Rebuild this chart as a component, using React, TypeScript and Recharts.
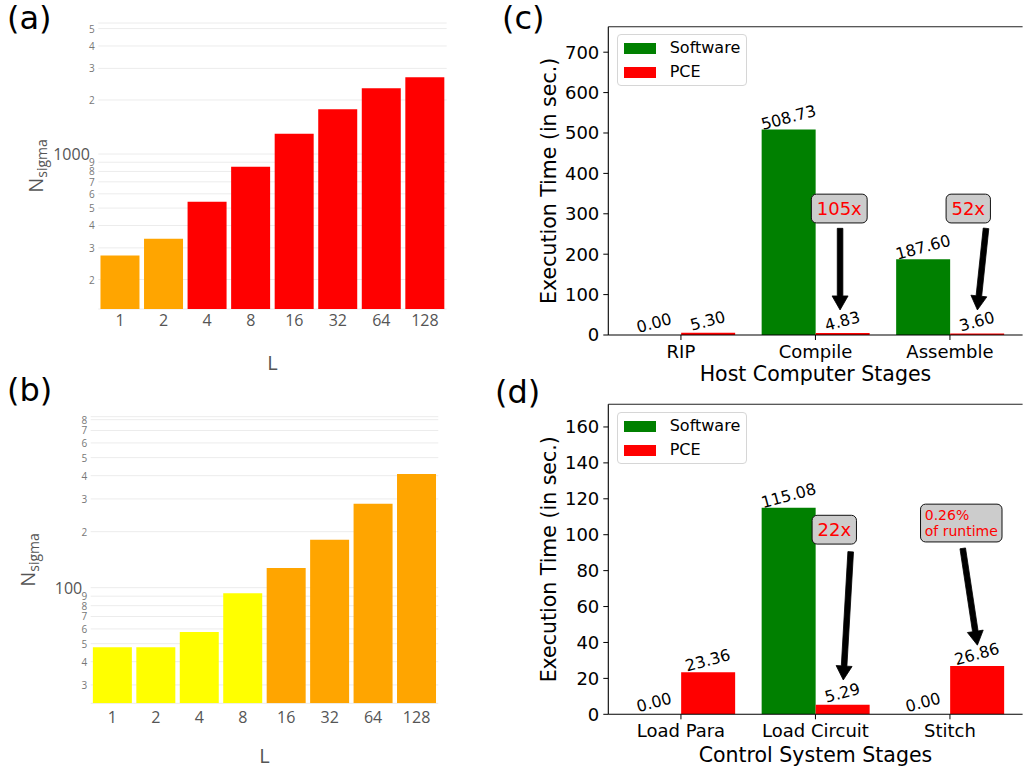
import React from 'react';
import {
  BarChart,
  Bar,
  XAxis,
  YAxis,
  CartesianGrid,
  Cell,
  Legend,
  ReferenceLine,
  ReferenceDot,
  Label,
} from 'recharts';

// ---------- panel (a) / (b) data ----------
const L_LABELS = ['1', '2', '4', '8', '16', '32', '64', '128'];
const NSIGMA_A = [272, 337, 542, 850, 1298, 1775, 2323, 2677];
const FILL_A = ['#FFA500', '#FFA500', '#FF0000', '#FF0000', '#FF0000', '#FF0000', '#FF0000', '#FF0000'];
const NSIGMA_B = [47.8, 47.8, 57.8, 93.3, 127.6, 181, 283, 408];
const FILL_B = ['#FFFF00', '#FFFF00', '#FFFF00', '#FFFF00', '#FFA500', '#FFA500', '#FFA500', '#FFA500'];
const TICKS_A = [200, 300, 400, 500, 600, 700, 800, 900, 1000, 2000, 3000, 4000, 5000];
const TICKS_B = [30, 40, 50, 60, 70, 80, 90, 100, 200, 300, 400, 500, 600, 700, 800];
const RANGE_A = [137, 5370];
const RANGE_B = [23.9, 830];

// ---------- panel (c) / (d) data ----------
const SERIES_NAMES = ['Software', 'PCE'];
const HOST_STAGES = ['RIP', 'Compile', 'Assemble'];
const HOST_SOFTWARE = [0, 508.73, 187.6];
const HOST_PCE = [5.3, 4.83, 3.6];
const HOST_TICKS = [0, 100, 200, 300, 400, 500, 600, 700];
const CTRL_STAGES = ['Load Para', 'Load Circuit', 'Stitch'];
const CTRL_SOFTWARE = [0, 115.08, 0];
const CTRL_PCE = [23.36, 5.29, 26.86];
const CTRL_TICKS = [0, 20, 40, 60, 80, 100, 120, 140, 160];
const STAGE_X_RANGE = [-0.54, 2.54];
const BAR_HALF = 0.2; // bar centre offset from stage centre, in stage units

const HOST_NOTES = [
  { text: ['105x'], size: 18, at: [1.177, 313], from: [1.183, 264], to: [1.183, 62] },
  { text: ['52x'], size: 18, at: [2.136, 313], from: [2.268, 264], to: [2.204, 62] },
];
const CTRL_NOTES = [
  { text: ['22x'], size: 18, at: [1.14, 102.8], from: [1.262, 90.5], to: [1.207, 19.1] },
  { text: ['0.26%', 'of runtime'], size: 14, at: [2.084, 106.5], from: [2.095, 92.4], to: [2.204, 38.5] },
];

const MPL = '"DejaVu Sans", sans-serif';
const PLOTLY = '"Open Sans", sans-serif';

// ---------- helpers ----------
let _ctx: any = null;
const measure = (text: string, size: number) => {
  if (!_ctx) _ctx = document.createElement('canvas').getContext('2d');
  _ctx.font = `${size}px "DejaVu Sans"`;
  return _ctx.measureText(text).width;
};

const LogTick = (props: any) => {
  const { x, y, payload, major } = props;
  const v = payload.value;
  if (v === major) {
    return (
      <text x={x - 8.5} y={y} textAnchor="end" dominantBaseline="central" fontSize={16} fontFamily={PLOTLY} fill="#555">
        {String(v)}
      </text>
    );
  }
  return (
    <text x={x - 3.5} y={y} textAnchor="end" dominantBaseline="central" fontSize={10} fontFamily={PLOTLY} fill="#777">
      {String(v)[0]}
    </text>
  );
};

const NsigmaTitle = (props: any) => {
  const { viewBox, base } = props;
  const bx = base;
  const cy = viewBox.y + viewBox.height / 2;
  return (
    <text x={bx} y={cy} transform={`rotate(-90 ${bx} ${cy})`} textAnchor="middle" fontFamily={PLOTLY} fill="#555">
      <tspan fontSize={20}>N</tspan>
      <tspan fontSize={14} dy={4}>sigma</tspan>
    </text>
  );
};

const XTitle = (props: any) => {
  const { viewBox, text, base, font, size, color } = props;
  return (
    <text x={viewBox.x + viewBox.width / 2} y={viewBox.y + base} textAnchor="middle" fontFamily={font} fontSize={size} fill={color}>
      {text}
    </text>
  );
};

const YTitle = (props: any) => {
  const { viewBox, text, cxOff } = props;
  const cx = viewBox.x + cxOff;
  const cy = viewBox.y + viewBox.height / 2;
  return (
    <text x={cx} y={cy} transform={`rotate(-90 ${cx} ${cy})`} textAnchor="middle" dominantBaseline="central" fontFamily={MPL} fontSize={20.5} fill="#000">
      {text}
    </text>
  );
};

const ValueText = (props: any) => {
  const { cx, cy, value } = props;
  if (cx == null || cy == null) return null;
  const ty = cy - 12;
  return (
    <text x={cx} y={ty} transform={`rotate(-15 ${cx} ${ty})`} textAnchor="middle" dominantBaseline="central" fontSize={16} fontFamily={MPL} fill="#000">
      {Number(value).toFixed(2)}
    </text>
  );
};

const NoteBox = (props: any) => {
  const { cx, cy, lines, size } = props;
  if (cx == null || cy == null) return null;
  const pad = 0.3 * size;
  const widths = lines.map((l: string) => measure(l, size));
  const tw = Math.max(...widths);
  const lh = size * 1.1;
  const th = size + (lines.length - 1) * lh;
  const w = tw + 2 * pad;
  const h = th + 2 * pad;
  const left = cx - w / 2;
  const topY = cy - h / 2;
  const single = lines.length === 1;
  return (
    <g>
      <rect x={left} y={topY} width={w} height={h} rx={5} ry={5} fill="#cccccc" stroke="#111" strokeWidth={1} />
      {lines.map((l: string, i: number) => (
        <text
          key={i}
          x={single ? cx : left + pad}
          y={cy - ((lines.length - 1) / 2) * lh + i * lh}
          textAnchor={single ? 'middle' : 'start'}
          dominantBaseline="central"
          fontSize={size}
          fontFamily={MPL}
          fill="#FF0000"
        >
          {l}
        </text>
      ))}
    </g>
  );
};

const Arrow = (props: any) => {
  const { x1, y1, x2, y2 } = props;
  if ([x1, y1, x2, y2].some((v) => v == null || isNaN(v))) return null;
  const dx = x2 - x1;
  const dy = y2 - y1;
  const len = Math.sqrt(dx * dx + dy * dy);
  const ux = dx / len;
  const uy = dy / len;
  const nx = -uy;
  const ny = ux;
  const w = 2.8;
  const hw = 8;
  const hl = 14;
  const bx = x2 - ux * hl;
  const by = y2 - uy * hl;
  const pts = [
    [x1 + nx * w, y1 + ny * w],
    [bx + nx * w, by + ny * w],
    [bx + nx * hw, by + ny * hw],
    [x2, y2],
    [bx - nx * hw, by - ny * hw],
    [bx - nx * w, by - ny * w],
    [x1 - nx * w, y1 - ny * w],
  ]
    .map((p) => p.join(','))
    .join(' ');
  return <polygon points={pts} fill="#000" stroke="#000" strokeWidth={0.8} strokeLinejoin="miter" />;
};

const LegendBox = (props: any) => {
  const payload = [...(props.payload || [])].sort(
    (a: any, b: any) => SERIES_NAMES.indexOf(a.value) - SERIES_NAMES.indexOf(b.value)
  );
  return (
    <div
      style={{
        width: 130,
        height: 52,
        boxSizing: 'border-box',
        border: '1px solid #d6d6d6',
        borderRadius: 4,
        background: 'rgba(255,255,255,0.8)',
        position: 'relative',
        fontFamily: MPL,
        fontSize: 16,
        color: '#000',
      }}
    >
      {payload.map((p: any, i: number) => (
        <div
          key={i}
          style={{ position: 'absolute', left: 6, top: 3 + i * 24, height: 20, display: 'flex', alignItems: 'center', whiteSpace: 'nowrap' }}
        >
          <div style={{ width: 32, height: 11, background: p.color }} />
          <span style={{ marginLeft: 14, lineHeight: '20px' }}>{p.value}</span>
        </div>
      ))}
    </div>
  );
};

// ---------- plotly-style log panels ----------
const LogPanel = (props: any) => {
  const { values, fills, ticks, range, major, width, height, margin, yWidth, xHeight, tickGap, titleBase, nBase } = props;
  const data = L_LABELS.map((l, i) => ({ L: l, n: values[i] }));
  return (
    <BarChart width={width} height={height} data={data} margin={margin} barCategoryGap="5%">
      <CartesianGrid vertical={false} stroke="#ececec" strokeWidth={1} />
      <XAxis
        dataKey="L"
        interval={0}
        axisLine={false}
        tickLine={false}
        tickSize={0}
        tickMargin={tickGap}
        height={xHeight}
        tick={{ fontSize: 16, fill: '#555', fontFamily: PLOTLY }}
      >
        <Label content={(p: any) => <XTitle {...p} text="L" base={titleBase} font={PLOTLY} size={20} color="#555" />} />
      </XAxis>
      <YAxis
        type="number"
        scale="log"
        domain={range}
        allowDataOverflow
        ticks={ticks}
        interval={0}
        width={yWidth}
        axisLine={false}
        tickLine={false}
        tickSize={0}
        tickMargin={0}
        tick={(p: any) => <LogTick {...p} major={major} />}
      >
        <Label content={(p: any) => <NsigmaTitle {...p} base={nBase} />} />
      </YAxis>
      <Bar dataKey="n" isAnimationActive={false}>
        {data.map((d, i) => (
          <Cell key={d.L} fill={fills[i]} />
        ))}
      </Bar>
    </BarChart>
  );
};

// ---------- matplotlib-style stage panels ----------
const StagePanel = (props: any) => {
  const { stages, software, pce, ticks, notes, xTitle, height, top, xHeight, xTitleBase, legendTop } = props;
  const data = stages.map((s: string, i: number) => ({ stage: s, software: software[i], pce: pce[i], pos: i }));
  const yMax = 1.5 * Math.max(...software);
  return (
    <BarChart width={523} height={height} data={data} margin={{ top, right: 0.4, left: 0, bottom: 0 }} barCategoryGap="10%" barGap={0}>
      <XAxis
        dataKey="stage"
        interval={0}
        padding={{ left: 5.4, right: 5.4 }}
        height={xHeight}
        tickSize={5}
        tickMargin={5}
        axisLine={{ stroke: '#000', strokeWidth: 1.1 }}
        tickLine={{ stroke: '#000' }}
        tick={{ fontSize: 18, fill: '#000', fontFamily: MPL }}
      >
        <Label content={(p: any) => <XTitle {...p} text={xTitle} base={xTitleBase} font={MPL} size={20.5} color="#000" />} />
      </XAxis>
      <XAxis xAxisId="num" type="number" dataKey="pos" domain={STAGE_X_RANGE} allowDataOverflow hide />
      <YAxis
        type="number"
        domain={[0, yMax]}
        allowDataOverflow
        ticks={ticks}
        interval={0}
        width={108.3}
        tickSize={5}
        tickMargin={4}
        axisLine={{ stroke: '#000', strokeWidth: 1.1 }}
        tickLine={{ stroke: '#000' }}
        tick={{ fontSize: 18, fill: '#000', fontFamily: MPL }}
      >
        <Label content={(p: any) => <YTitle {...p} text="Execution Time (in sec.)" cxOff={49.3} />} />
      </YAxis>
      <Legend
        layout="horizontal"
        verticalAlign="middle"
        align="center"
        wrapperStyle={{ left: 116.7, top: legendTop, width: 130, height: 52 }}
        content={(p: any) => <LegendBox {...p} />}
      />
      <Bar dataKey="software" name={SERIES_NAMES[0]} fill="#008000" isAnimationActive={false} />
      <Bar dataKey="pce" name={SERIES_NAMES[1]} fill="#FF0000" isAnimationActive={false} />
      <ReferenceLine y={yMax} stroke="#222" strokeWidth={1.1} />
      {data.map((d: any, i: number) => (
        <ReferenceDot
          key={`s${i}`}
          xAxisId="num"
          x={d.pos - BAR_HALF}
          y={d.software}
          r={1}
          shape={(p: any) => <ValueText {...p} value={d.software} />}
        />
      ))}
      {data.map((d: any, i: number) => (
        <ReferenceDot
          key={`p${i}`}
          xAxisId="num"
          x={d.pos + BAR_HALF}
          y={d.pce}
          r={1}
          shape={(p: any) => <ValueText {...p} value={d.pce} />}
        />
      ))}
      {notes.map((n: any, i: number) => (
        <ReferenceLine
          key={`a${i}`}
          xAxisId="num"
          segment={[
            { x: n.from[0], y: n.from[1] },
            { x: n.to[0], y: n.to[1] },
          ]}
          shape={(p: any) => <Arrow {...p} />}
        />
      ))}
      {notes.map((n: any, i: number) => (
        <ReferenceDot
          key={`b${i}`}
          xAxisId="num"
          x={n.at[0]}
          y={n.at[1]}
          r={1}
          shape={(p: any) => <NoteBox {...p} lines={n.text} size={n.size} />}
        />
      ))}
    </BarChart>
  );
};

export default function App() {
  return (
    <div style={{ position: 'absolute', left: 0, top: 0, width: 1023, height: 771, background: '#fff', overflow: 'hidden' }}>
      <div style={{ position: 'absolute', left: 0, top: 0 }}>
        <LogPanel
          values={NSIGMA_A}
          fills={FILL_A}
          ticks={TICKS_A}
          range={RANGE_A}
          major={1000}
          width={460}
          height={380}
          margin={{ top: 23, right: 13.3, left: 0, bottom: 6 }}
          yWidth={98.3}
          xHeight={65}
          tickGap={6}
          titleBase={61}
          nBase={43}
        />
      </div>
      <div style={{ position: 'absolute', left: 0, top: 380 }}>
        <LogPanel
          values={NSIGMA_B}
          fills={FILL_B}
          ticks={TICKS_B}
          range={RANGE_B}
          major={100}
          width={460}
          height={391}
          margin={{ top: 36.7, right: 21.7, left: 0, bottom: 7.7 }}
          yWidth={90.7}
          xHeight={60}
          tickGap={8}
          titleBase={59.7}
          nBase={35}
        />
      </div>
      <div style={{ position: 'absolute', left: 500, top: 0 }}>
        <StagePanel
          stages={HOST_STAGES}
          software={HOST_SOFTWARE}
          pce={HOST_PCE}
          ticks={HOST_TICKS}
          notes={HOST_NOTES}
          xTitle="Host Computer Stages"
          height={385}
          top={26.7}
          xHeight={50}
          xTitleBase={46}
          legendTop={34}
        />
      </div>
      <div style={{ position: 'absolute', left: 500, top: 385 }}>
        <StagePanel
          stages={CTRL_STAGES}
          software={CTRL_SOFTWARE}
          pce={CTRL_PCE}
          ticks={CTRL_TICKS}
          notes={CTRL_NOTES}
          xTitle="Control System Stages"
          height={386}
          top={19.3}
          xHeight={56.7}
          xTitleBase={47.4}
          legendTop={27.3}
        />
      </div>
      <svg width={1023} height={771} style={{ position: 'absolute', left: 0, top: 0, pointerEvents: 'none' }}>
        <text x={7} y={29} fontSize={32} fontFamily={MPL} fill="#000">(a)</text>
        <text x={7} y={401} fontSize={32} fontFamily={MPL} fill="#000">(b)</text>
        <text x={502} y={29} fontSize={32} fontFamily={MPL} fill="#000">(c)</text>
        <text x={495} y={402.5} fontSize={32} fontFamily={MPL} fill="#000">(d)</text>
      </svg>
    </div>
  );
}
